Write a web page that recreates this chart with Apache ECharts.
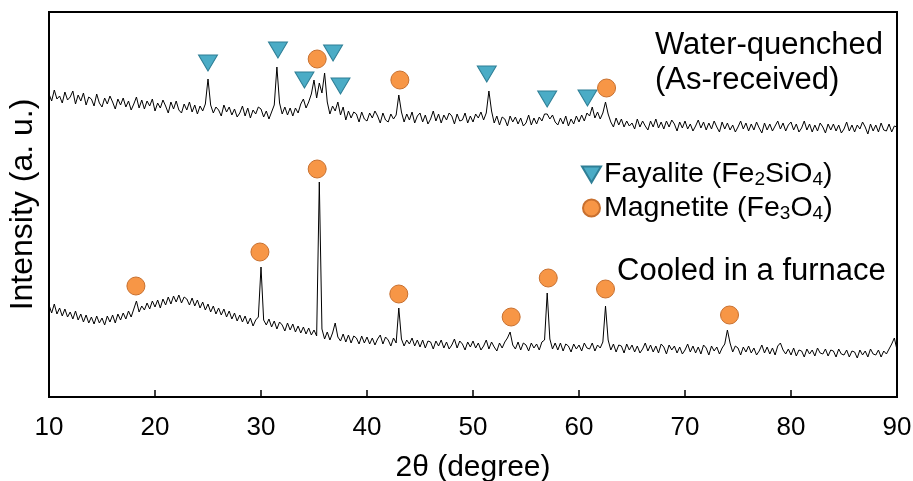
<!DOCTYPE html>
<html>
<head>
<meta charset="utf-8">
<script src="https://cdn.jsdelivr.net/npm/echarts@6/dist/echarts.min.js"></script>
<style>
html,body{margin:0;padding:0;background:#fff;}
#chart{width:913px;height:481px;}
</style>
</head>
<body>
<div id="chart"></div>
<script>
// 2-theta sampling grid: start and step (degrees)
const thetaStart = 10;
const thetaStep = 0.25;

// Water-quenched (As-received) intensity, arbitrary units, one value per grid step (10..90)
const waterQuenched = [
303,296,307,298, 301,294,305,297, 300,306,293,302, 296,304,292,300,
298,291,303,294, 290,299,293,301, 295,288,298,292, 299,290,296,287,
293,300,289,297, 288,296,291,298, 286,294,289,297, 291,284,295,288,
296,287,284,293, 287,295,285,292, 283,291,286,293, 318,292,284,290,
287,281,292,285, 290,282,288,280, 284,291,281,289, 279,287,283,290,
288,280,286,278, 285,292,330,294, 283,290,282,289, 281,289,284,293,
298,289,295,303, 317,299,314,304, 324,295,283,291, 286,295,282,290,
277,286,279,285, 283,275,285,278, 276,284,279,286, 281,274,284,277,
275,283,278,282, 302,285,275,283, 277,285,274,281, 284,275,282,273,
278,286,276,283, 274,282,277,284, 281,273,283,276, 277,284,274,281,
275,283,279,285, 277,284,306,286, 274,281,272,280, 278,271,281,275,
280,273,279,271, 274,282,272,279, 273,280,276,283, 283,278,282,275,
272,279,273,281, 271,278,273,281, 275,282,276,284, 281,290,279,285,
278,284,295,283, 275,270,279,272, 278,270,276,271, 274,268,278,270,
276,271,267,276, 270,278,269,275, 268,276,270,277, 273,266,275,269,
276,268,273,266, 271,277,269,275, 267,274,268,276, 270,265,275,268,
274,267,272,265, 270,276,268,274, 266,273,267,275, 269,264,274,267,
273,266,271,276, 268,274,266,272, 275,267,273,265, 269,276,267,273,
265,272,266,274, 270,264,273,267, 273,266,272,264, 268,275,266,272,
265,272,268,275, 270,263,273,266, 272,265,274,267, 266,273,265,271,
270
];

// Cooled in a furnace intensity, arbitrary units, one value per grid step (10..90)
const furnaceCooled = [
92,84,93,83, 89,81,88,80, 85,78,86,77, 83,75,82,74,
80,73,81,74, 79,72,81,75, 82,74,83,77, 84,78,86,80,
88,96,85,91, 87,94,88,96, 90,97,89,98, 92,100,93,101,
95,102,94,100, 98,92,99,91, 97,89,95,87, 93,85,91,83,
89,82,88,80, 86,78,84,76, 82,75,81,73, 79,71,77,80,
130,77,72,78, 70,76,68,75, 72,66,74,67, 73,65,71,64,
70,63,69,62, 67,61,215,68, 58,65,57,64, 74,60,56,63,
55,62,54,61, 59,53,61,54, 60,53,59,52, 58,62,53,60,
57,51,59,54, 89,58,51,57, 53,59,51,57, 50,57,49,56,
55,48,56,51, 57,49,55,48, 52,58,49,56, 53,47,55,50,
56,49,54,47, 51,57,48,55, 50,46,54,49, 55,59,65,52,
48,55,47,54, 52,46,54,49, 53,47,55,57, 104,58,48,54,
47,54,46,53, 51,45,53,48, 52,46,54,49, 48,54,46,52,
49,55,91,57, 47,53,45,52, 51,44,53,47, 52,45,51,44,
48,54,46,52, 45,51,44,53, 50,43,52,47, 51,44,50,43,
47,53,45,51, 44,50,43,52, 49,42,51,46, 50,43,49,53,
67,54,45,51, 49,42,50,45, 51,44,49,42, 46,52,44,50,
43,49,42,51, 54,47,43,48, 42,49,41,47, 46,40,48,43,
47,41,49,44, 43,48,41,47, 46,40,48,43, 42,47,40,46,
45,39,47,42, 46,40,48,43, 42,47,40,46, 43,48,53,59,
47
];

// Peak markers [2theta, height]
const fayaliteMarks = [[25.0,334],[31.6,347],[34.1,317],[36.8,344],[37.5,311],[51.3,323],[57.0,298],[60.8,299]];
const magnetiteMarks = [[35.3,338],[43.1,317],[62.6,309],
  [18.2,111],[29.9,145],[35.3,228],[43.0,103],[53.6,80],[57.1,119],[62.5,108],[74.2,82]];

const xTicks = [10,20,30,40,50,60,70,80,90];

function toXY(vals){ return vals.map((v,i)=>[thetaStart + i*thetaStep, v]); }

const FONT = 'Liberation Sans, Arial, Helvetica, sans-serif';
const chart = echarts.init(document.getElementById('chart'));
const subStyle = {fontSize:19, fontFamily:FONT, color:'#000', verticalAlign:'bottom', lineHeight:14};
const baseStyle = {fontSize:28.5, fontFamily:FONT, color:'#000', lineHeight:30};

chart.setOption({
  animation:false,
  backgroundColor:'#fff',
  grid:{left:49, right:16, top:12, bottom:84, show:true, borderColor:'#000', borderWidth:2,
        backgroundColor:'transparent', containLabel:false, outerBoundsMode:'none'},
  xAxis:{
    type:'value', min:xTicks[0], max:xTicks[xTicks.length-1], interval:10,
    name:'2θ (degree)', nameLocation:'middle', nameGap:56,
    nameTextStyle:{fontSize:30, fontFamily:FONT, color:'#000'},
    axisLine:{show:true, lineStyle:{color:'#000', width:2}},
    axisTick:{show:true, inside:true, length:7, lineStyle:{color:'#000', width:1.5}},
    axisLabel:{fontSize:26, fontFamily:FONT, color:'#000', margin:18},
    splitLine:{show:false}
  },
  yAxis:{
    type:'value', min:0, max:385,
    name:'Intensity (a. u.)', nameLocation:'middle', nameGap:10,
    nameTextStyle:{fontSize:32, fontFamily:FONT, color:'#000'},
    axisLine:{show:true, lineStyle:{color:'#000', width:2}},
    axisTick:{show:false}, axisLabel:{show:false}, splitLine:{show:false}
  },
  legend:{
    orient:'vertical', left:576, top:155, itemWidth:19, itemHeight:17, itemGap:4,
    selectedMode:false,
    data:[{name:'Fayalite', icon:'path://M0,0L20,0L10,17Z'},{name:'Magnetite', icon:'circle'}],
    formatter:function(name){
      if(name==='Fayalite') return '{b|Fayalite (Fe}{s|2}{b|SiO}{s|4}{b|)}';
      return '{b|Magnetite (Fe}{s|3}{b|O}{s|4}{b|)}';
    },
    textStyle:{fontSize:28.5, fontFamily:FONT, color:'#000', padding:[0,0,0,-2], rich:{b:baseStyle, s:subStyle}}
  },
  graphic:[
    {type:'text', left:655, top:30, style:{text:'Water-quenched', font:'31px '+FONT, fill:'#000'}},
    {type:'text', left:655, top:65, style:{text:'(As-received)', font:'31px '+FONT, fill:'#000'}},
    {type:'text', left:617, top:256, style:{text:'Cooled in a furnace', font:'31px '+FONT, fill:'#000'}}
  ],
  series:[
    {name:'Water-quenched', type:'line', data:toXY(waterQuenched), showSymbol:false, symbol:'none',
     lineStyle:{color:'#000', width:1}, z:2},
    {name:'Cooled in a furnace', type:'line', data:toXY(furnaceCooled), showSymbol:false, symbol:'none',
     lineStyle:{color:'#000', width:1}, z:2},
    {name:'Fayalite', type:'scatter', data:fayaliteMarks, symbol:'triangle', symbolRotate:180, symbolSize:[19,16],
     itemStyle:{color:'#4BACC6', borderColor:'#2f7f96', borderWidth:1, opacity:1}, z:5},
    {name:'Magnetite', type:'scatter', data:magnetiteMarks, symbol:'circle', symbolSize:18,
     itemStyle:{color:'#F79646', borderColor:'#c8702f', borderWidth:1, opacity:1}, z:5}
  ]
});
</script>
</body>
</html>
